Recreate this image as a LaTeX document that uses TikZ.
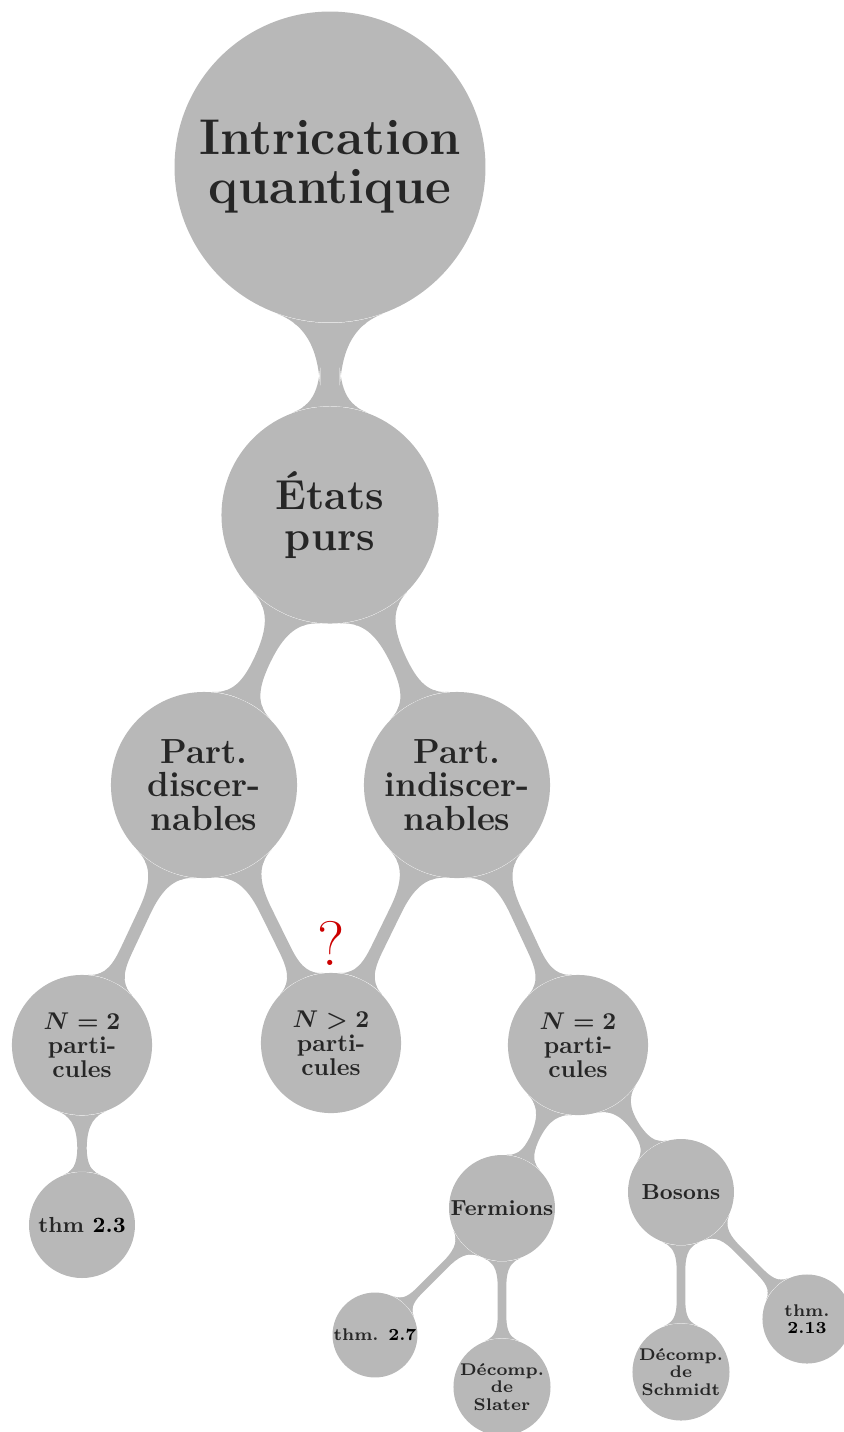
\documentclass[tikz,border=0pt]{standalone}
\usetikzlibrary{mindmap}
\colorlet{cc}{black!28}
\colorlet{tc}{black!85}
\tikzset{
  cnode/.style={circle, fill=cc, text=tc, inner sep=0pt, align=center},
  lvA/.style={cnode, minimum size=128.5pt, font=\fontsize{20.74}{20.2}\selectfont\bfseries\boldmath},
  lvB/.style={cnode, minimum size=89.7pt, font=\fontsize{17.28}{16.6}\selectfont\bfseries\boldmath},
  lvC/.style={cnode, minimum size=76.9pt, font=\fontsize{14.4}{13.7}\selectfont\bfseries\boldmath},
  lvD/.style={cnode, minimum size=57.9pt, font=\fontsize{10}{9.9}\selectfont\bfseries\boldmath},
  lvE/.style={cnode, minimum size=43.8pt, font=\fontsize{9}{9}\selectfont\bfseries\boldmath},
  lvF/.style={cnode, font=\fontsize{7}{7.2}\selectfont\bfseries\boldmath},
  bar/.style={circle connection bar switch color=from (cc) to (cc)},
  qmark/.style={text=red!80!black, font=\fontsize{26}{26}\selectfont, inner sep=0pt}
}
\begin{document}
\begin{tikzpicture}[x=0.41322pt,y=-0.41322pt]
\useasboundingbox (0,0) rectangle (844,1432);
\node[lvA] (root) at (330,167) {Intrication\\quantique};
\node[lvB] (ep) at (330,515) {États\\purs};
\node[lvC] (pd) at (204,785) {Part.\\discer-\\nables};
\node[lvC] (pi) at (457,785) {Part.\\indiscer-\\nables};
\node[lvD] (n2a) at (82,1045) {$N=2$\\parti-\\cules};
\node[lvD] (ng) at (331,1043) {$N>2$\\parti-\\cules};
\node[lvD] (n2b) at (578,1045) {$N=2$\\parti-\\cules};
\node[lvE] (t23) at (82,1225) {thm \textcolor{black}{2.3}};
\node[lvE] (ferm) at (502,1208) {Fermions};
\node[lvE] (bos) at (681,1192) {Bosons};
\node[lvF, minimum size=35.1pt] (t27) at (375,1335) {thm. \textcolor{black}{2.7}};
\node[lvF, minimum size=40.1pt] (slat) at (502,1387) {Décomp.\\de\\Slater};
\node[lvF, minimum size=40.1pt] (schm) at (681,1372) {Décomp.\\de\\Schmidt};
\node[lvF, minimum size=36.8pt] (t213) at (807,1319) {thm.\\\textcolor{black}{2.13}};
\node[qmark] (q) at (331,943) {?};
\path[line width=9pt] (root) to[bar] (ep);
\path[line width=5.5pt] (ep) to[bar] (pd);
\path[line width=5.5pt] (ep) to[bar] (pi);
\path[line width=4.5pt] (pd) to[bar] (n2a);
\path[line width=4.5pt] (pd) to[bar] (ng);
\path[line width=4.5pt] (pi) to[bar] (ng);
\path[line width=4.5pt] (pi) to[bar] (n2b);
\path[line width=4pt] (n2a) to[bar] (t23);
\path[line width=3pt] (n2b) to[bar] (ferm);
\path[line width=3pt] (n2b) to[bar] (bos);
\path[line width=3pt] (ferm) to[bar] (t27);
\path[line width=3pt] (ferm) to[bar] (slat);
\path[line width=3pt] (bos) to[bar] (schm);
\path[line width=3pt] (bos) to[bar] (t213);
\end{tikzpicture}
\end{document}
